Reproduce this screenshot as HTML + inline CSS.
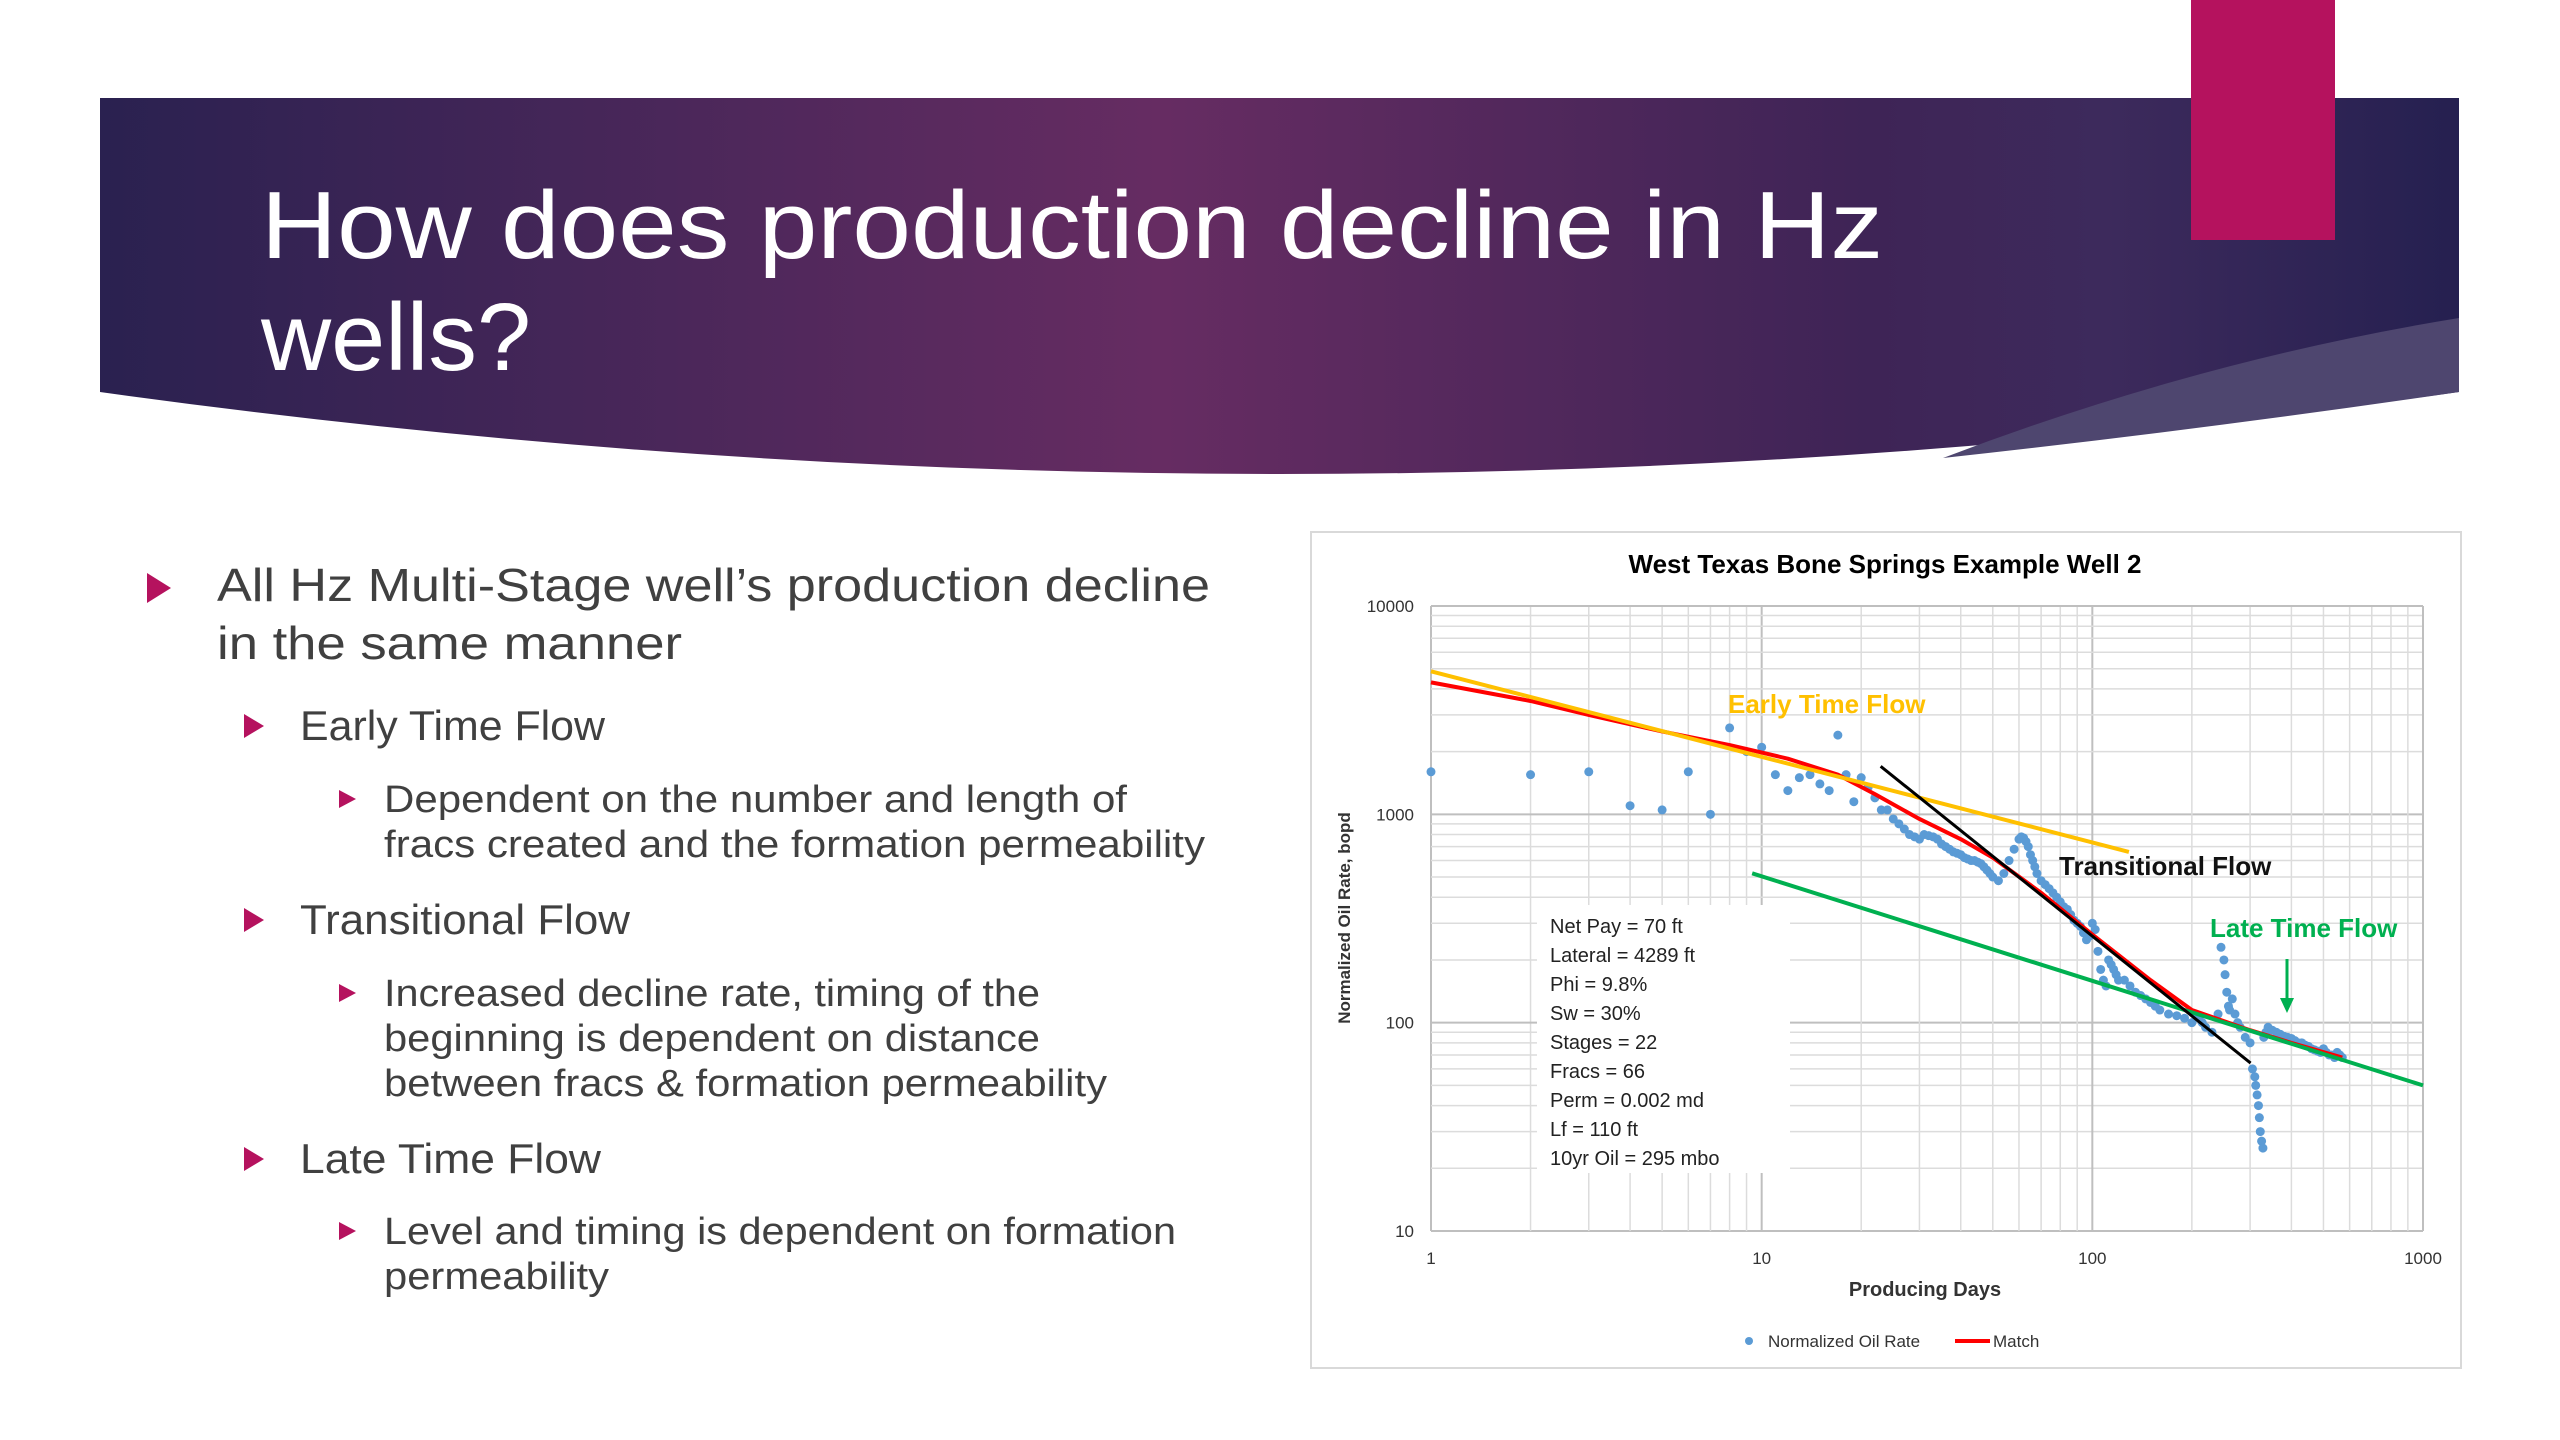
<!DOCTYPE html>
<html><head><meta charset="utf-8"><style>
html,body{margin:0;padding:0;background:#fff;width:2560px;height:1440px;overflow:hidden}
svg{display:block}
</style></head><body>
<svg id="slide" width="2560" height="1440" viewBox="0 0 2560 1440" xmlns="http://www.w3.org/2000/svg">
<defs>
<linearGradient id="bg" x1="0" y1="0" x2="1" y2="0">
<stop offset="0" stop-color="#2a2150"/><stop offset="0.45" stop-color="#662c62"/><stop offset="0.75" stop-color="#3e2456"/><stop offset="0.85" stop-color="#3d2a5c"/><stop offset="1" stop-color="#252050"/>
</linearGradient>
</defs>
<path d="M100,98 L2459,98 L2459,392 Q1280,556 100,392 Z" fill="url(#bg)"/>
<path d="M2459,318 Q2200,360 1943,458 Q2200,430 2459,392 Z" fill="#4e466f"/>
<rect x="2191" y="0" width="144" height="240" fill="#b5125e"/>
<g font-family="'Liberation Sans',sans-serif" fill="#ffffff" font-size="96">
<text x="261" y="258" textLength="1622" lengthAdjust="spacingAndGlyphs">How does production decline in Hz</text>
<text x="261" y="370" textLength="270" lengthAdjust="spacingAndGlyphs">wells?</text>
</g>
<g font-family="'Liberation Sans',sans-serif" fill="#404040">
<polygon points="147,573 171,588 147,603" fill="#b5125e"/>
<text x="217" y="601" font-size="46" textLength="993" lengthAdjust="spacingAndGlyphs">All Hz Multi-Stage well’s production decline</text>
<text x="217" y="659" font-size="46" textLength="465" lengthAdjust="spacingAndGlyphs">in the same manner</text>
<polygon points="244,714 264,726 244,738" fill="#b5125e"/>
<text x="300" y="740" font-size="42" textLength="305" lengthAdjust="spacingAndGlyphs">Early Time Flow</text>
<polygon points="339,790 356,799 339,808" fill="#b5125e"/>
<text x="384" y="812" font-size="38" textLength="743" lengthAdjust="spacingAndGlyphs">Dependent on the number and length of</text>
<text x="384" y="857" font-size="38" textLength="821" lengthAdjust="spacingAndGlyphs">fracs created and the formation permeability</text>
<polygon points="244,908 264,920 244,932" fill="#b5125e"/>
<text x="300" y="934" font-size="42" textLength="330" lengthAdjust="spacingAndGlyphs">Transitional Flow</text>
<polygon points="339,984 356,993 339,1002" fill="#b5125e"/>
<text x="384" y="1006" font-size="38" textLength="656" lengthAdjust="spacingAndGlyphs">Increased decline rate, timing of the</text>
<text x="384" y="1051" font-size="38" textLength="656" lengthAdjust="spacingAndGlyphs">beginning is dependent on distance</text>
<text x="384" y="1096" font-size="38" textLength="723" lengthAdjust="spacingAndGlyphs">between fracs &amp; formation permeability</text>
<polygon points="244,1147 264,1159 244,1171" fill="#b5125e"/>
<text x="300" y="1173" font-size="42" textLength="301" lengthAdjust="spacingAndGlyphs">Late Time Flow</text>
<polygon points="339,1222 356,1231 339,1240" fill="#b5125e"/>
<text x="384" y="1244" font-size="38" textLength="792" lengthAdjust="spacingAndGlyphs">Level and timing is dependent on formation</text>
<text x="384" y="1289" font-size="38" textLength="225" lengthAdjust="spacingAndGlyphs">permeability</text>
</g>
<g id="chart" font-family="'Liberation Sans',sans-serif">
<rect x="1311" y="532" width="1150" height="836" fill="#fff" stroke="#d9d9d9" stroke-width="2"/>
<text x="1885" y="573" font-size="26" font-weight="bold" text-anchor="middle" fill="#000">West Texas Bone Springs Example Well 2</text>
<g id="grid"></g>
<g id="ticks" font-size="17" fill="#333"></g>
<text x="1925" y="1296" font-size="20" font-weight="bold" text-anchor="middle" fill="#333">Producing Days</text>
<text transform="translate(1350,918) rotate(-90)" font-size="17" font-weight="bold" text-anchor="middle" fill="#333">Normalized Oil Rate, bopd</text>
<rect x="1537" y="905" width="253" height="268" fill="#fff"/>
<g font-size="20" fill="#222">
<text x="1550" y="933">Net Pay = 70 ft</text>
<text x="1550" y="962">Lateral = 4289 ft</text>
<text x="1550" y="991">Phi = 9.8%</text>
<text x="1550" y="1020">Sw = 30%</text>
<text x="1550" y="1049">Stages  = 22</text>
<text x="1550" y="1078">Fracs = 66</text>
<text x="1550" y="1107">Perm = 0.002 md</text>
<text x="1550" y="1136">Lf = 110 ft</text>
<text x="1550" y="1165">10yr Oil = 295 mbo</text>
</g>
<g id="series"></g>
<text x="1728" y="713" font-size="26" font-weight="bold" fill="#ffc000">Early Time Flow</text>
<text x="2059" y="875" font-size="26" font-weight="bold" fill="#111">Transitional Flow</text>
<text x="2210" y="937" font-size="26" font-weight="bold" fill="#00b050">Late Time Flow</text>
<line x1="2287" y1="959" x2="2287" y2="1003" stroke="#00b050" stroke-width="3"/>
<polygon points="2280,998 2294,998 2287,1013" fill="#00b050"/>
<g>
<circle cx="1749" cy="1341" r="4" fill="#5b9bd5"/>
<text x="1768" y="1347" font-size="17" fill="#333">Normalized Oil Rate</text>
<line x1="1955" y1="1341" x2="1990" y2="1341" stroke="#ff0000" stroke-width="4"/>
<text x="1993" y="1347" font-size="17" fill="#333">Match</text>
</g>
</g>
</svg>
<script>
const xTicks = [1, 10, 100, 1000];
const yTicks = [10, 100, 1000, 10000];
const xTickLabels = ["1", "10", "100", "1000"];
const yTickLabels = ["10", "100", "1000", "10000"];
const oilDays = [1,2,3,4,5,6,7,8,9,10,11,12,13,14,15,16,17,18,19,20,21,22,23,24,25,26,27,28,29,30,31,32,33,34,35,36,37,38,39,40,41,42,43,44,45,46,47,48,49,50,52,54,56,58,60,61,62,63,64,65,66,67,68,70,72,74,76,78,80,82,84,86,88,90,92,94,96,98,100,102,104,106,108,110,112,114,116,118,120,125,130,135,140,145,150,155,160,170,180,190,200,205,210,215,220,230,240,245,250,252,255,258,260,265,270,275,280,290,300,305,310,312,315,318,320,322,325,328,330,335,340,350,360,370,380,390,400,410,420,430,440,450,460,470,480,490,500,510,520,530,540,550,560,570];
const oilRates = [1600,1550,1600,1100,1050,1600,1000,2600,2000,2100,1550,1300,1500,1550,1400,1300,2400,1550,1150,1500,1350,1200,1050,1050,950,900,850,800,780,760,800,790,780,760,720,700,680,660,650,640,620,610,600,600,590,580,560,540,520,500,480,520,600,680,760,780,770,740,700,640,600,560,520,480,460,440,420,400,380,360,350,330,310,300,290,270,250,260,300,280,220,180,160,150,200,190,180,170,160,160,150,140,135,130,125,120,115,110,108,105,100,110,105,100,95,90,110,230,200,170,140,120,115,130,110,100,95,85,80,60,55,50,45,40,35,30,27,25,85,90,95,92,90,88,86,85,84,82,80,80,78,77,75,74,73,72,75,72,70,70,68,72,70,68];
const matchDays = [1,2,3,5,8,12,17,22,30,40,50,70,100,150,200,300,400,570];
const matchRates = [4300,3500,3000,2500,2150,1850,1550,1250,950,760,620,420,265,160,115,92,80,68];
const earlyDays = [1, 129];
const earlyRates = [4860, 660];
const transDays = [22.9, 301];
const transRates = [1700, 64];
const lateDays = [9.36, 1000];
const lateRates = [521, 50];

const X0 = 1431, X1 = 2423, Y0 = 1231, Y1 = 606;
function xs(d){ return X0 + Math.log10(d) * (X1 - X0) / 3; }
function ys(v){ return Y0 - (Math.log10(v) - 1) * (Y0 - Y1) / 3; }
const NS = "http://www.w3.org/2000/svg";
const grid = document.getElementById("grid");
const ticks = document.getElementById("ticks");
const series = document.getElementById("series");

for (let dec = 1; dec <= 100; dec *= 10) {
  for (let m = 1; m <= 10; m++) {
    const v = dec * m;
    if (m === 10 && dec !== 100) continue;
    const major = (m === 1 || m === 10);
    const lx = document.createElementNS(NS, "line");
    lx.setAttribute("x1", xs(v)); lx.setAttribute("x2", xs(v));
    lx.setAttribute("y1", Y1); lx.setAttribute("y2", Y0);
    lx.setAttribute("stroke", major ? "#bfbfbf" : "#dcdcdc");
    lx.setAttribute("stroke-width", major ? 2 : 1.5);
    
    
    grid.appendChild(lx);
    const vy = v * 10;
    const ly = document.createElementNS(NS, "line");
    ly.setAttribute("x1", X0); ly.setAttribute("x2", X1);
    ly.setAttribute("y1", ys(vy)); ly.setAttribute("y2", ys(vy));
    ly.setAttribute("stroke", major ? "#bfbfbf" : "#dcdcdc");
    ly.setAttribute("stroke-width", major ? 2 : 1.5);
    
    
    grid.appendChild(ly);
  }
}
xTicks.forEach((t, i) => {
  const tx = document.createElementNS(NS, "text");
  tx.setAttribute("x", xs(t)); tx.setAttribute("y", 1264);
  tx.setAttribute("text-anchor", "middle");
  tx.textContent = xTickLabels[i];
  
  
  ticks.appendChild(tx);
});
yTicks.forEach((t, i) => {
  const ty = document.createElementNS(NS, "text");
  ty.setAttribute("x", 1414); ty.setAttribute("y", ys(t) + 6);
  ty.setAttribute("text-anchor", "end");
  ty.textContent = yTickLabels[i];
  
  
  ticks.appendChild(ty);
});
oilDays.forEach((d, i) => {
  const c = document.createElementNS(NS, "circle");
  c.setAttribute("cx", xs(d)); c.setAttribute("cy", ys(oilRates[i]));
  c.setAttribute("r", 4.5); c.setAttribute("fill", "#5b9bd5");
  
  
  series.appendChild(c);
});
function poly(days, rates, color, w, name){
  const p = document.createElementNS(NS, "polyline");
  p.setAttribute("points", days.map((d, i) => xs(d) + "," + ys(rates[i])).join(" "));
  p.setAttribute("fill", "none"); p.setAttribute("stroke", color);
  p.setAttribute("stroke-width", w); p.setAttribute("stroke-linejoin", "round");
  
  
  series.appendChild(p);
}
poly(matchDays, matchRates, "#ff0000", 4, "match-line");
poly(lateDays, lateRates, "#00b050", 4, "late-time-trend");
poly(earlyDays, earlyRates, "#ffc000", 4, "early-time-trend");
poly(transDays, transRates, "#000000", 3, "transitional-trend");
</script>
</body></html>
